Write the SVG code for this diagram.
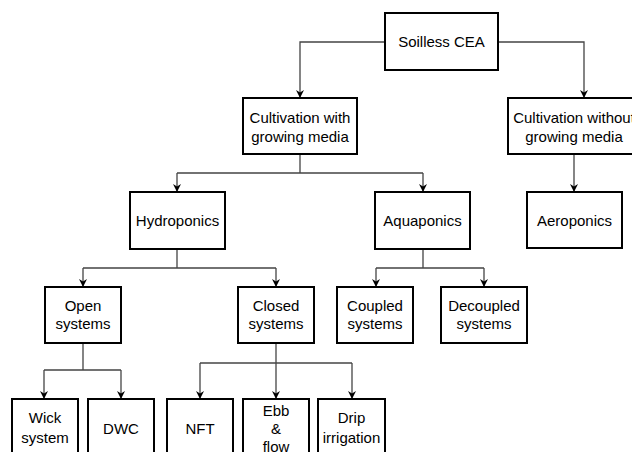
<svg xmlns="http://www.w3.org/2000/svg" width="632" height="452" viewBox="0 0 632 452">
<defs>
<marker id="ah" viewBox="0 0 10 10" refX="10" refY="5" markerWidth="8" markerHeight="8" markerUnits="userSpaceOnUse" orient="auto">
<path d="M0,0 L10,5 L0,10 L3,5 Z" fill="#000"/>
</marker>
<style>
.box{fill:#fff;stroke:#000;stroke-width:2}
.t{font-family:"Liberation Sans",Arial,sans-serif;font-size:15px;fill:#000;text-anchor:middle}
.c{fill:none;stroke:#444;stroke-width:1.3}
.a{marker-end:url(#ah)}
</style>
</defs>
<rect width="632" height="452" fill="#fff"/>
<g id="connectors">
<path class="c a" d="M385,42 H300 V98"/>
<path class="c a" d="M498,42 H584 V98"/>
<path class="c" d="M300,154 V173 M177,173 H423"/>
<path class="c a" d="M177,173 V192"/>
<path class="c a" d="M423,173 V192"/>
<path class="c a" d="M574,154 V192"/>
<path class="c" d="M177,249 V268 M83,268 H276"/>
<path class="c a" d="M83,268 V287"/>
<path class="c a" d="M276,268 V287"/>
<path class="c" d="M423,249 V268 M376,268 H484"/>
<path class="c a" d="M376,268 V287"/>
<path class="c a" d="M484,268 V287"/>
<path class="c" d="M83,343 V370 M44,370 H121"/>
<path class="c a" d="M44,370 V399"/>
<path class="c a" d="M121,370 V399"/>
<path class="c" d="M200,363 H352"/>
<path class="c a" d="M276,343 V399"/>
<path class="c a" d="M200,363 V399"/>
<path class="c a" d="M352,363 V399"/>
</g>
<g id="soilless">
<rect class="box" x="385" y="13" width="113" height="57"/>
<text class="t" x="441.5" y="47">Soilless CEA</text>
</g>
<g id="with-media">
<rect class="box" x="243" y="98" width="114" height="56"/>
<text class="t" x="300" y="123">Cultivation with</text>
<text class="t" x="300" y="142">growing media</text>
</g>
<g id="without-media">
<rect class="box" x="508" y="98" width="132" height="56"/>
<text class="t" x="574" y="123">Cultivation without</text>
<text class="t" x="574" y="142">growing media</text>
</g>
<g id="hydroponics">
<rect class="box" x="130" y="192" width="95" height="57"/>
<text class="t" x="177.5" y="226">Hydroponics</text>
</g>
<g id="aquaponics">
<rect class="box" x="375" y="192" width="95" height="57"/>
<text class="t" x="422.5" y="226">Aquaponics</text>
</g>
<g id="aeroponics">
<rect class="box" x="527" y="192" width="95" height="56"/>
<text class="t" x="574.5" y="226">Aeroponics</text>
</g>
<g id="open">
<rect class="box" x="45" y="287" width="76" height="56"/>
<text class="t" x="83" y="311">Open</text>
<text class="t" x="83" y="329">systems</text>
</g>
<g id="closed">
<rect class="box" x="238" y="287" width="76" height="56"/>
<text class="t" x="276" y="311">Closed</text>
<text class="t" x="276" y="329">systems</text>
</g>
<g id="coupled">
<rect class="box" x="337" y="287" width="76" height="56"/>
<text class="t" x="375" y="311">Coupled</text>
<text class="t" x="375" y="329">systems</text>
</g>
<g id="decoupled">
<rect class="box" x="441" y="287" width="86" height="56"/>
<text class="t" x="484" y="311">Decoupled</text>
<text class="t" x="484" y="329">systems</text>
</g>
<g id="wick">
<rect class="box" x="12" y="399" width="66" height="62"/>
<text class="t" x="45" y="423">Wick</text>
<text class="t" x="45" y="443">system</text>
</g>
<g id="dwc">
<rect class="box" x="88" y="399" width="66" height="62"/>
<text class="t" x="121" y="434">DWC</text>
</g>
<g id="nft">
<rect class="box" x="167" y="399" width="66" height="62"/>
<text class="t" x="200" y="434">NFT</text>
</g>
<g id="ebb">
<rect class="box" x="243" y="399" width="66" height="62"/>
<text class="t" x="276" y="416">Ebb</text>
<text class="t" x="276" y="434">&amp;</text>
<text class="t" x="276" y="452">flow</text>
</g>
<g id="drip">
<rect class="box" x="318" y="399" width="67" height="62"/>
<text class="t" x="351.5" y="423">Drip</text>
<text class="t" x="351.5" y="443">irrigation</text>
</g>
</svg>
